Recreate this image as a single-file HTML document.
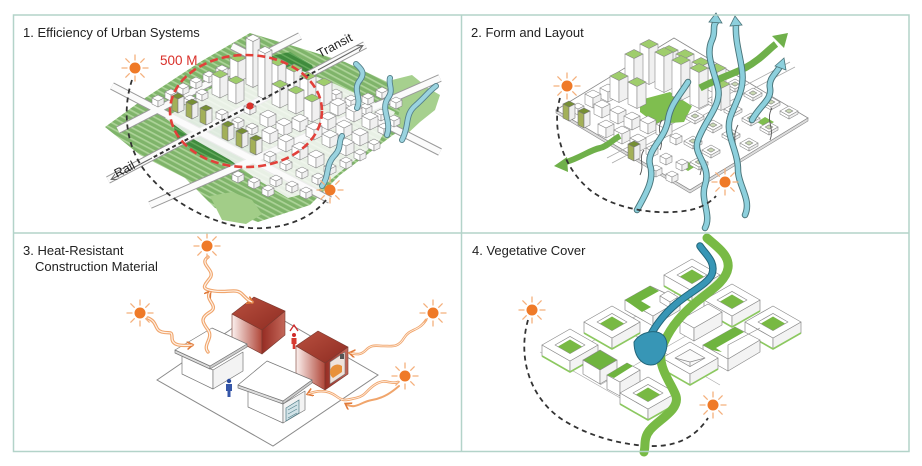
<!DOCTYPE html>
<html><head><meta charset="utf-8"><style>
html,body{margin:0;padding:0;background:#fff;}
svg{display:block;}
text{font-family:"Liberation Sans",Arial,sans-serif;}
</style></head><body>
<svg width="922" height="466" viewBox="0 0 922 466" xmlns="http://www.w3.org/2000/svg">
<defs>
 <pattern id="st" width="5" height="5" patternUnits="userSpaceOnUse" patternTransform="rotate(28)">
  <rect width="5" height="5" fill="#7fb46a"/><rect width="5" height="1.7" fill="#acd398"/>
 </pattern>
 <pattern id="dst" width="5" height="5" patternUnits="userSpaceOnUse" patternTransform="rotate(28)">
  <rect width="5" height="5" fill="#3f8b3d"/><rect width="5" height="1.5" fill="#62a85a"/>
 </pattern>
 <linearGradient id="rl" x1="0" y1="0" x2="1" y2="0"><stop offset="0" stop-color="#fbf0ee"/><stop offset="1" stop-color="#b04638"/></linearGradient>
 <linearGradient id="rt" x1="0" y1="0" x2="1" y2="1"><stop offset="0" stop-color="#b9503f"/><stop offset="1" stop-color="#8e2c22"/></linearGradient>
 <linearGradient id="rr" x1="0" y1="0" x2="1" y2="0"><stop offset="0" stop-color="#962c23"/><stop offset="1" stop-color="#c4685a"/></linearGradient>
 <marker id="ah" markerWidth="10" markerHeight="10" refX="5" refY="4" orient="auto" markerUnits="userSpaceOnUse"><path d="M0,0 L6,4 L0,8" fill="none" stroke="#e07a3a" stroke-width="1.6"/></marker>
 <marker id="ga" markerWidth="10" markerHeight="10" refX="5" refY="3" orient="auto" markerUnits="userSpaceOnUse"><path d="M0,0 L6,3 L0,6" fill="none" stroke="#666" stroke-width="1"/></marker>
 <g id="sun">
  <g stroke="#f4b07c" stroke-width="1.3" stroke-linecap="round">
   <line x1="8" y1="0" x2="13" y2="0"/><line x1="-8" y1="0" x2="-13" y2="0"/>
   <line x1="0" y1="8" x2="0" y2="13"/><line x1="0" y1="-8" x2="0" y2="-13"/>
   <line x1="5.7" y1="5.7" x2="9.2" y2="9.2"/><line x1="-5.7" y1="5.7" x2="-9.2" y2="9.2"/>
   <line x1="5.7" y1="-5.7" x2="9.2" y2="-9.2"/><line x1="-5.7" y1="-5.7" x2="-9.2" y2="-9.2"/>
  </g>
  <circle r="5.5" fill="#ef7a28"/>
 </g>
 <g id="tw" stroke="#8a8a8a" stroke-width=".6" stroke-linejoin="round"><path d="M0,0 L8,4 L8,-30 L0,-34Z" fill="#fff"/><path d="M8,4 L16,0 L16,-34 L8,-30Z" fill="#f0f0f0"/><path d="M0,-34 L8,-38 L16,-34 L8,-30Z" fill="#9fcd6c"/></g>
 <g id="tx" stroke="#8a8a8a" stroke-width=".6" stroke-linejoin="round"><path d="M0,0 L7,3.5 L7,-42.5 L0,-46Z" fill="#fff"/><path d="M7,3.5 L14,0 L14,-46 L7,-42.5Z" fill="#f0f0f0"/><path d="M0,-46 L7,-49.5 L14,-46 L7,-42.5Z" fill="#fff"/></g>
 <g id="tm" stroke="#8a8a8a" stroke-width=".6" stroke-linejoin="round"><path d="M0,0 L8,4 L8,-16 L0,-20Z" fill="#fff"/><path d="M8,4 L16,0 L16,-20 L8,-16Z" fill="#f0f0f0"/><path d="M0,-20 L8,-24 L16,-20 L8,-16Z" fill="#9fcd6c"/></g>
 <g id="wb" stroke="#8a8a8a" stroke-width=".6" stroke-linejoin="round"><path d="M0,0 L8,4 L8,-6 L0,-10Z" fill="#fff"/><path d="M8,4 L16,0 L16,-10 L8,-6Z" fill="#f0f0f0"/><path d="M0,-10 L8,-14 L16,-10 L8,-6Z" fill="#fff"/></g>
 <g id="ws" stroke="#8a8a8a" stroke-width=".6" stroke-linejoin="round"><path d="M0,0 L6,3 L6,-3 L0,-6Z" fill="#fff"/><path d="M6,3 L12,0 L12,-6 L6,-3Z" fill="#f0f0f0"/><path d="M0,-6 L6,-9 L12,-6 L6,-3Z" fill="#fff"/></g>
 <g id="ob" stroke="#7a7a7a" stroke-width=".6" stroke-linejoin="round"><path d="M0,0 L6,3 L6,-11 L0,-14Z" fill="#a3b058"/><path d="M6,3 L12,0 L12,-14 L6,-11Z" fill="#eee"/><path d="M0,-14 L6,-17 L12,-14 L6,-11Z" fill="#768f34"/></g>
 <g id="tw9" stroke="#8a8a8a" stroke-width=".6" stroke-linejoin="round"><path d="M0,0 L9,4.5 L9,-31.5 L0,-36Z" fill="#fff"/><path d="M9,4.5 L18,0 L18,-36 L9,-31.5Z" fill="#f0f0f0"/><path d="M0,-36 L9,-40.5 L18,-36 L9,-31.5Z" fill="#9fcd6c"/></g>
 <g id="tm9" stroke="#8a8a8a" stroke-width=".6" stroke-linejoin="round"><path d="M0,0 L9,4.5 L9,-17.5 L0,-22Z" fill="#fff"/><path d="M9,4.5 L18,0 L18,-22 L9,-17.5Z" fill="#f0f0f0"/><path d="M0,-22 L9,-26.5 L18,-22 L9,-17.5Z" fill="#9fcd6c"/></g>
 <g id="sr" stroke="#8a8a8a" stroke-width=".6" stroke-linejoin="round"><path d="M-9,0 L0,5 L0,8 L-9,3Z" fill="#fff"/><path d="M0,5 L9,0 L9,3 L0,8Z" fill="#eee"/><path d="M-9,0 L0,-5 L9,0 L0,5Z" fill="#fff"/><path d="M-4,0 L0,-2.2 L4,0 L0,2.2Z" fill="#c9d8b2"/></g>
 <g id="rg" stroke="#8a8a8a" stroke-width=".7" stroke-linejoin="round">
  <path d="M-28,0 L0,16 L0,27 L-28,11Z" fill="#fff"/><path d="M0,16 L28,0 L28,11 L0,27Z" fill="#f3f3f3"/>
  <path d="M-28,11 L0,27 L28,11" fill="none" stroke="#8cc860" stroke-width="1.6"/>
  <path d="M-28,0 L0,-16 L28,0 L0,16Z" fill="#fff"/>
  <path d="M-15,0 L0,-8.6 L15,0 L0,8.6Z" fill="#fff"/>
  <path d="M-12,1.5 L0,-5.5 L12,1.5 L0,8.5Z" fill="#78b943" stroke="none"/>
 </g>
 <g id="rh" stroke="#8a8a8a" stroke-width=".7" stroke-linejoin="round">
  <path d="M-28,0 L0,16 L0,27 L-28,11Z" fill="#fff"/><path d="M0,16 L28,0 L28,11 L0,27Z" fill="#f3f3f3"/>
  <path d="M-28,11 L0,27 L28,11" fill="none" stroke="#8cc860" stroke-width="1.6"/>
  <path d="M-28,0 L0,-16 L28,0 L0,16Z" fill="#fff"/>
  <path d="M-15,0 L0,-8.6 L15,0 L0,8.6Z" fill="#fafafa"/>
  <path d="M-15,0 L0,4 L15,0 M0,4 L0,8.6" fill="none"/>
 </g>
 <path id="w1" d="M208,257 C198,264 216,270 210,278 S200,289 214,291 S236,288 242,294 S248,300 252,302"/>
 <path id="w2" d="M148,318 C158,322 154,330 162,332 S172,330 172,338 S182,346 192,345"/>
 <path id="w3" d="M208,352 C202,345 214,338 208,330 S200,318 210,312 S204,300 210,292"/>
 <path id="w4" d="M426,320 C418,332 410,328 404,338 S392,346 384,346 S372,344 366,350 S356,354 350,353"/>
 <path id="w5" d="M398,382 C390,385 386,378 376,384 S366,396 356,398 S344,402 336,396 S318,390 308,394"/>
 <path id="w6" d="M399,386 C392,392 384,398 372,400 S356,410 346,404"/>
</defs>
<rect width="922" height="466" fill="#fff"/>

<!-- ============ PANEL 1 ============ -->
<polygon points="105,127 145,98 200,62 250,33 300,48 345,62 400,88 433,98 420,120 393,135 340,175 310,205 258,222 215,208 185,178 140,155" fill="url(#st)"/>
<polygon points="392,80 412,75 428,88 440,95 435,110 420,122 405,136 395,126 400,110 392,95" fill="#a6d08e"/>
<polygon points="210,196 232,192 252,200 262,214 246,224 222,220" fill="#a2cd88"/>
<polygon points="173,125 205,115 250,135 262,165 240,167 200,155 178,140" fill="url(#dst)"/>
<polygon points="262,58 290,52 312,65 318,85 300,80 275,70" fill="url(#dst)"/>
<g fill="none" stroke-linecap="butt">
 <path d="M118,130 L300,36 M150,205 L440,78 M108,180 L365,45 M112,86 L330,200 M232,46 L440,152" stroke="#9a9a9a" stroke-width="8"/>
 <path d="M118,130 L300,36 M150,205 L440,78 M108,180 L365,45 M112,86 L330,200 M232,46 L440,152" stroke="#fbfbfb" stroke-width="6"/>
</g>
<polygon points="165,118 215,86 255,66 300,70 335,84 395,112 380,140 345,168 318,190 288,198 258,180 230,160 195,140" fill="#fafafa" opacity=".85"/>
<use href="#ws" x="216" y="74"/>
<use href="#ws" x="203" y="80"/><use href="#tm" x="230" y="78"/>
<use href="#ws" x="190" y="86"/><use href="#tx" x="246" y="84"/><use href="#tm" x="270" y="82"/>
<use href="#ws" x="177" y="92"/><use href="#tm" x="212" y="94"/><use href="#tm" x="286" y="88"/>
<use href="#ws" x="165" y="98"/><use href="#ws" x="196" y="98"/><use href="#tm" x="228" y="100"/><use href="#tx" x="258" y="96"/><use href="#tm" x="300" y="96"/><use href="#ws" x="330" y="98"/>
<use href="#ws" x="152" y="104"/><use href="#ws" x="184" y="104"/><use href="#tm" x="272" y="104"/><use href="#tm" x="316" y="102"/><use href="#ws" x="345" y="104"/>
<use href="#ob" x="172" y="110"/><use href="#ws" x="244" y="112"/><use href="#tm" x="288" y="110"/><use href="#wb" x="330" y="112"/><use href="#ws" x="360" y="112"/>
<use href="#ob" x="186" y="116"/><use href="#ws" x="216" y="118"/><use href="#tm" x="304" y="118"/><use href="#wb" x="346" y="118"/><use href="#ws" x="375" y="118"/>
<use href="#ob" x="200" y="122"/><use href="#ws" x="232" y="126"/><use href="#wb" x="260" y="124"/><use href="#wb" x="320" y="126"/><use href="#wb" x="362" y="126"/><use href="#ws" x="388" y="124"/>
<use href="#ws" x="246" y="132"/><use href="#wb" x="276" y="132"/><use href="#wb" x="292" y="128"/><use href="#wb" x="336" y="134"/><use href="#ws" x="378" y="132"/>
<use href="#ob" x="222" y="138"/><use href="#wb" x="262" y="140"/><use href="#wb" x="306" y="136"/><use href="#wb" x="352" y="142"/>
<use href="#ob" x="236" y="145"/><use href="#wb" x="278" y="148"/><use href="#wb" x="322" y="144"/><use href="#ws" x="368" y="148"/>
<use href="#ob" x="250" y="152"/><use href="#wb" x="292" y="156"/><use href="#wb" x="338" y="152"/>
<use href="#ws" x="264" y="160"/><use href="#wb" x="308" y="164"/><use href="#ws" x="354" y="158"/>
<use href="#ws" x="280" y="168"/><use href="#ws" x="324" y="172"/><use href="#ws" x="340" y="166"/>
<use href="#ws" x="296" y="176"/><use href="#ws" x="232" y="180"/><use href="#ws" x="312" y="182"/>
<use href="#ws" x="248" y="186"/><use href="#ws" x="270" y="184"/><use href="#ws" x="286" y="190"/>
<use href="#ws" x="262" y="194"/><use href="#ws" x="300" y="196"/>
<use href="#ws" x="362" y="102"/><use href="#ws" x="376" y="96"/><use href="#ws" x="390" y="106"/>
<g fill="none" stroke-linecap="round">
 <path d="M357,108 C362,98 352,90 360,80 C366,72 360,68 356,64 M387,135 C392,120 380,110 388,98 C394,90 388,84 390,78 M402,140 C410,125 404,115 416,105 C426,96 428,92 436,86 M322,186 C330,175 325,165 335,155 C342,147 338,142 342,136" stroke="#55808a" stroke-width="6"/>
 <path d="M357,108 C362,98 352,90 360,80 C366,72 360,68 356,64 M387,135 C392,120 380,110 388,98 C394,90 388,84 390,78 M402,140 C410,125 404,115 416,105 C426,96 428,92 436,86 M322,186 C330,175 325,165 335,155 C342,147 338,142 342,136" stroke="#9ad3df" stroke-width="4.2"/>
</g>
<path d="M250,106 L318,70" stroke="#333" stroke-width="2" stroke-dasharray="4 3" fill="none"/>
<path d="M318,70 L362,46" stroke="#666" stroke-width="1" fill="none" marker-end="url(#ga)"/>
<path d="M250,106 L152,158" stroke="#333" stroke-width="2" stroke-dasharray="4 3" fill="none"/>
<path d="M152,158 L112,179" stroke="#666" stroke-width="1" fill="none" marker-end="url(#ga)"/>
<ellipse cx="246" cy="111" rx="76" ry="56" fill="none" stroke="#e2403a" stroke-width="2.6" stroke-dasharray="8 4"/>
<circle cx="250" cy="106" r="3.6" fill="#d9302a"/>
<text x="160" y="65" font-size="13.5" fill="#d9302a">500 M</text>
<text x="0" y="0" font-size="12.5" fill="#222" transform="translate(320,58) rotate(-28)">Transit</text>
<text x="0" y="0" font-size="12.5" fill="#222" transform="translate(117,178) rotate(-28)">Rail</text>
<path d="M132,80 C122,110 125,150 150,177 C175,205 215,225 250,228 C280,230 310,220 326,200" fill="none" stroke="#333" stroke-width="1.8" stroke-dasharray="5 4"/>
<use href="#sun" x="135" y="68"/>
<use href="#sun" x="330" y="190"/>

<!-- ============ PANEL 2 ============ -->
<polygon points="556,110 674,38 808,118 690,190" fill="#fff" stroke="#8a8a8a" stroke-width=".8"/>
<path d="M556,110 L690,190 L808,118 L808,121 L690,193 L556,113Z" fill="#ddd" stroke="#8a8a8a" stroke-width=".6"/>
<path d="M607,158 L790,62 M612,163 L795,67" stroke="#aaa" stroke-width=".8" fill="none"/>
<polygon points="640,100 670,92 692,106 684,122 656,124 640,112" fill="#7fbe4f"/>
<polygon points="757,122 765,117 774,122 766,127" fill="#7fbe4f"/>
<polygon points="680,166 688,162 696,166 688,171" fill="#7fbe4f"/>
<use href="#sr" x="735" y="84"/><use href="#sr" x="753" y="93"/>
<use href="#tm9" x="660" y="72"/><use href="#tm9" x="676" y="76"/>
<use href="#tw9" x="640" y="80"/><use href="#tm9" x="692" y="84"/>
<use href="#sr" x="771" y="102"/><use href="#sr" x="715" y="100"/>
<use href="#tw9" x="625" y="90"/><use href="#tw9" x="655" y="88"/><use href="#tm9" x="708" y="90"/>
<use href="#sr" x="733" y="109"/><use href="#sr" x="789" y="111"/>
<use href="#wb" x="600" y="98"/><use href="#ws" x="614" y="92"/><use href="#tm9" x="610" y="98"/><use href="#tw9" x="672" y="96"/>
<use href="#wb" x="585" y="104"/><use href="#tm9" x="628" y="104"/><use href="#tw9" x="690" y="104"/><use href="#tm9" x="712" y="106"/>
<use href="#sr" x="751" y="118"/><use href="#sr" x="695" y="116"/><use href="#sr" x="769" y="127"/>
<use href="#ws" x="572" y="112"/><use href="#wb" x="594" y="114"/>
<use href="#ob" x="563" y="118"/><use href="#wb" x="610" y="120"/>
<use href="#sr" x="713" y="125"/><use href="#sr" x="731" y="134"/><use href="#sr" x="749" y="143"/>
<use href="#ob" x="578" y="125"/><use href="#wb" x="624" y="126"/><use href="#wb" x="640" y="130"/><use href="#wb" x="656" y="134"/>
<use href="#wb" x="598" y="134"/><use href="#wb" x="614" y="140"/><use href="#ws" x="670" y="142"/>
<use href="#sr" x="693" y="141"/><use href="#sr" x="711" y="150"/>
<use href="#wb" x="630" y="148"/><use href="#ws" x="646" y="154"/>
<use href="#ob" x="628" y="158"/><use href="#ws" x="660" y="162"/><use href="#ws" x="676" y="168"/><use href="#sr" x="699" y="162"/>
<use href="#ws" x="650" y="174"/><use href="#ws" x="666" y="180"/>
<path d="M660,150 C665,140 655,130 662,120 M700,175 C705,160 695,150 702,135 M735,160 C740,150 730,140 738,125 M770,140 C775,128 765,120 772,108 M640,175 C645,165 638,158 644,150 M720,100 C724,92 716,86 722,78" stroke="#555" stroke-width=".9" fill="none"/>
<path d="M566,162 C580,158 590,150 600,148 C608,146 612,140 620,136" stroke="#6fb04a" stroke-width="6" fill="none"/>
<polygon points="554,166 567,157 568,172" fill="#6fb04a"/>
<path d="M700,88 C715,80 730,75 745,68 C760,60 768,50 776,44" stroke="#6fb04a" stroke-width="7" fill="none"/>
<polygon points="772,36 788,33 784,48" fill="#6fb04a"/>
<g fill="none" stroke-linecap="round">
 <path d="M637,210 C645,195 655,180 650,165 C646,150 665,140 668,120 C670,105 680,95 688,82 M705,228 C712,215 700,200 705,185 C712,165 692,155 698,140 C705,120 722,105 718,88 C714,70 705,55 712,40 C716,32 712,26 716,22 M745,215 C752,200 738,185 738,170 C738,150 725,135 730,118 C736,100 745,90 742,70 C740,55 735,40 736,25 M752,120 C760,105 772,100 770,88 C768,78 778,72 780,66" stroke="#4a7479" stroke-width="6.5"/>
 <path d="M637,210 C645,195 655,180 650,165 C646,150 665,140 668,120 C670,105 680,95 688,82 M705,228 C712,215 700,200 705,185 C712,165 692,155 698,140 C705,120 722,105 718,88 C714,70 705,55 712,40 C716,32 712,26 716,22 M745,215 C752,200 738,185 738,170 C738,150 725,135 730,118 C736,100 745,90 742,70 C740,55 735,40 736,25 M752,120 C760,105 772,100 770,88 C768,78 778,72 780,66" stroke="#8dd0dd" stroke-width="4.6"/>
</g>
<polygon points="709,22 716,13 722,23" fill="#8dd0dd" stroke="#4a7479" stroke-width=".8"/>
<polygon points="730,26 735,16 742,25" fill="#8dd0dd" stroke="#4a7479" stroke-width=".8"/>
<polygon points="775,66 784,58 786,70" fill="#8dd0dd" stroke="#4a7479" stroke-width=".8"/>
<path d="M560,98 C552,125 560,165 590,190 C615,210 660,216 690,210 C700,208 710,203 716,196" fill="none" stroke="#333" stroke-width="1.8" stroke-dasharray="5 4"/>
<use href="#sun" x="567" y="86"/>
<use href="#sun" x="725" y="182"/>

<!-- ============ PANEL 3 ============ -->
<polygon points="157,380 262,308 378,375 273,446" fill="#fff" stroke="#8a8a8a" stroke-width="1"/>
<g stroke="#7a3a30" stroke-width=".6" stroke-linejoin="round">
 <polygon points="232,314 262,330 262,354 232,338" fill="url(#rl)"/>
 <polygon points="262,330 285,311 285,335 262,354" fill="url(#rr)"/>
 <polygon points="232,314 254,297 285,311 262,330" fill="url(#rt)"/>
</g>
<g stroke="#777" stroke-width=".7" stroke-linejoin="round">
 <polygon points="182,355 213,370 213,389 182,374" fill="#fff"/>
 <polygon points="213,370 243,352 243,371 213,389" fill="#f3f3f3"/>
 <polygon points="175,350 210,366 210,369 175,353" fill="#ddd"/>
 <polygon points="210,366 247,344 247,347 210,369" fill="#ccc"/>
 <polygon points="175,350 212,328 247,344 210,366" fill="#fff"/>
</g>
<g stroke="#7a3a30" stroke-width=".6" stroke-linejoin="round">
 <polygon points="296,346 325,363 325,390 296,373" fill="url(#rl)"/>
 <polygon points="325,363 348,347 348,374 325,390" fill="url(#rr)"/>
 <polygon points="296,346 318,331 348,347 325,363" fill="url(#rt)"/>
</g>
<polygon points="330,362 345,352 345,374 330,384" fill="#efe3dc" stroke="#777" stroke-width=".6"/>
<path d="M333,378 A6,6 0 0 1 342,366 L342,372 Z" fill="#e8913a"/>
<rect x="340" y="354" width="4" height="5" fill="#555"/>
<g stroke="#777" stroke-width=".7" stroke-linejoin="round">
 <polygon points="248,388 283,404 283,423 248,407" fill="#fff"/>
 <polygon points="283,404 305,391 305,410 283,423" fill="#f3f3f3"/>
 <polygon points="238,385 283,401 283,404 238,388" fill="#ddd"/>
 <polygon points="283,401 312,380 312,383 283,404" fill="#ccc"/>
 <polygon points="238,385 267,361 312,380 283,401" fill="#fff"/>
</g>
<polygon points="286,408 299,400 299,413 286,421" fill="#d2e3e8" stroke="#4f7d88" stroke-width=".7"/>
<path d="M288,410 L297,405 M288,414 L297,409 M288,418 L297,413" stroke="#4f7d88" stroke-width=".6"/>
<circle cx="229" cy="381" r="2.2" fill="#2b4b9c"/>
<path d="M226,384 h6 v7 h-1.5 v6 h-3 v-6 h-1.5z" fill="#3556a8"/>
<circle cx="294" cy="335" r="2" fill="#d02a2a"/>
<path d="M291.5,338 h5 v6 h-1.2 v5 h-2.6 v-5 h-1.2z" fill="#d63a30"/>
<path d="M290,331 L294,325 L298,331" fill="none" stroke="#d02a2a" stroke-width="1.3"/>
<g fill="none" stroke-linecap="round">
 <use href="#w1" stroke="#f0a56c" stroke-width="3.4" marker-end="url(#ah)"/>
 <use href="#w2" stroke="#f0a56c" stroke-width="3.4" marker-end="url(#ah)"/>
 <use href="#w3" stroke="#f0a56c" stroke-width="3.4" marker-end="url(#ah)"/>
 <use href="#w4" stroke="#f0a56c" stroke-width="2.6" marker-end="url(#ah)"/>
 <use href="#w5" stroke="#f0a56c" stroke-width="2.6" marker-end="url(#ah)"/>
 <use href="#w6" stroke="#f0a56c" stroke-width="2" marker-end="url(#ah)"/>
 <use href="#w1" stroke="#fff1e6" stroke-width="1.2"/>
 <use href="#w2" stroke="#fff1e6" stroke-width="1.2"/>
 <use href="#w3" stroke="#fff1e6" stroke-width="1.2"/>
 <use href="#w4" stroke="#fff1e6" stroke-width=".8"/>
 <use href="#w5" stroke="#fff1e6" stroke-width=".8"/>
</g>
<use href="#sun" x="207" y="246"/>
<use href="#sun" x="140" y="313"/>
<use href="#sun" x="433" y="313"/>
<use href="#sun" x="405" y="376"/>

<!-- ============ PANEL 4 ============ -->
<path d="M528,320 C518,355 528,395 560,418 C585,435 620,445 650,446 C675,447 695,438 708,418" fill="none" stroke="#333" stroke-width="1.8" stroke-dasharray="5 4"/>
<use href="#sun" x="532" y="310"/>
<use href="#sun" x="713" y="405"/>
<path d="M560,360 L690,285 M600,385 L740,305 M540,352 L650,415 M605,318 L720,385" stroke="#aaa" stroke-width=".6" fill="none"/>
<use href="#rg" x="692" y="275"/>
<g stroke="#8a8a8a" stroke-width=".7" stroke-linejoin="round">
 <polygon points="625,300 653,316 653,326 625,310" fill="#fff"/>
 <polygon points="653,316 680,300 680,310 653,326" fill="#f3f3f3"/>
 <polygon points="625,300 650,286 680,300 653,316" fill="#fff"/>
 <polygon points="625,300 650,286 659,291 641,301 651,307 642,312" fill="#6fb43f" stroke="none"/>
 <polygon points="660,296 668,291 678,297 670,302" fill="#fff"/>
 <polygon points="660,296 670,302 670,308 660,302" fill="#fff"/>
</g>
<use href="#rg" x="732" y="300"/>
<g stroke="#8a8a8a" stroke-width=".7" stroke-linejoin="round">
 <polygon points="680,320 694,328 694,341 680,333" fill="#fff"/>
 <polygon points="694,328 722,312 722,325 694,341" fill="#f3f3f3"/>
 <polygon points="680,320 708,304 722,312 694,328" fill="#fff"/>
</g>
<use href="#rg" x="612" y="322"/>
<use href="#rg" x="773" y="322"/>
<g stroke="#8a8a8a" stroke-width=".7" stroke-linejoin="round">
 <polygon points="703,345 728,359 728,371 703,357" fill="#fff"/>
 <polygon points="728,359 760,340 760,352 728,371" fill="#f3f3f3"/>
 <polygon points="703,345 735,327 760,340 728,359" fill="#fff"/>
 <polygon points="703,345 735,327 744,332 716,348 722,352 712,350" fill="#6fb43f" stroke="none"/>
 <path d="M728,359 L728,345 L760,328" fill="none"/>
</g>
<use href="#rg" x="570" y="345"/>
<use href="#rh" x="690" y="358"/>
<g stroke="#8a8a8a" stroke-width=".7" stroke-linejoin="round">
 <polygon points="583,360 600,370 600,384 583,374" fill="#fff"/>
 <polygon points="600,370 617,360 617,374 600,384" fill="#f3f3f3"/>
 <polygon points="583,360 600,350 617,360 600,370" fill="#6fb43f"/>
 <polygon points="607,375 620,382 620,396 607,389" fill="#fff"/>
 <polygon points="620,382 640,370 640,384 620,396" fill="#f3f3f3"/>
 <polygon points="607,375 627,363 640,370 620,382" fill="#fff"/>
 <polygon points="607,375 627,363 633,366 614,378" fill="#6fb43f" stroke="none"/>
</g>
<use href="#rg" x="648" y="393"/>
<path d="M707,238 C716,246 730,255 728,268 C726,282 708,292 694,304 C680,316 668,330 662,348 C656,366 672,384 676,396 C680,410 658,420 650,430 C643,438 646,446 644,452" fill="none" stroke="#78ba45" stroke-width="9" stroke-linecap="round"/>
<path d="M700,246 C706,255 716,262 712,274 C708,284 690,292 676,304 C664,314 656,325 650,336" fill="none" stroke="#22667a" stroke-width="7.5" stroke-linecap="round"/>
<path d="M700,246 C706,255 716,262 712,274 C708,284 690,292 676,304 C664,314 656,325 650,336" fill="none" stroke="#3796b6" stroke-width="5.5" stroke-linecap="round"/>
<path d="M634,342 C640,332 656,328 664,336 C670,344 666,358 656,364 C646,368 634,360 634,342Z" fill="#3796b6" stroke="#22667a" stroke-width="1"/>

<!-- ============ FRAME & TITLES ============ -->
<g fill="none" stroke="#b3d3c9" stroke-width="1.5">
 <rect x="13.5" y="15" width="895.5" height="436.5"/>
 <line x1="461.5" y1="15" x2="461.5" y2="451.5"/>
 <line x1="13.5" y1="233" x2="909" y2="233"/>
</g>
<g font-size="13" fill="#222">
 <text x="23" y="37">1. Efficiency of Urban Systems</text>
 <text x="471" y="37">2. Form and Layout</text>
 <text x="23" y="255">3. Heat-Resistant</text>
 <text x="35" y="271">Construction Material</text>
 <text x="472" y="255">4. Vegetative Cover</text>
</g>
</svg>
</body></html>
